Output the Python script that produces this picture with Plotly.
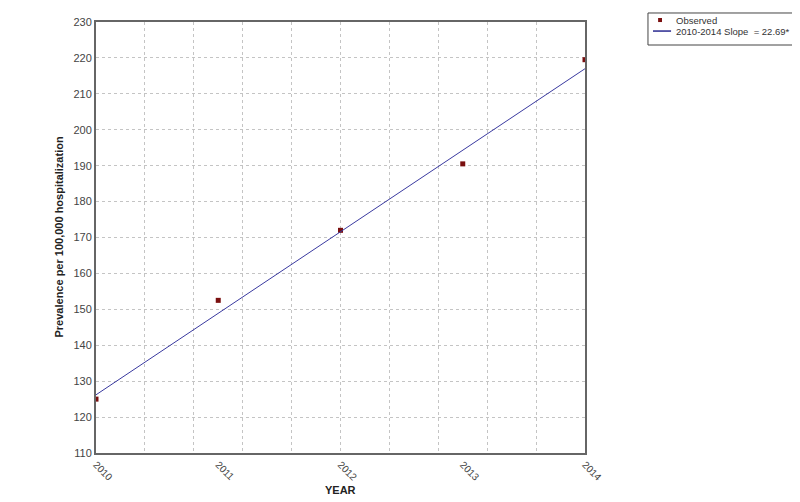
import plotly.graph_objects as go

years = [2010, 2011, 2012, 2013, 2014]
observed = [125.0, 152.5, 172.0, 190.5, 219.5]

trend_years = [2010, 2014]
trend_values = [126.2, 217.0]

y_ticks = list(range(110, 231, 10))

obs_label = 'Observed'
trend_label = '2010-2014 Slope  = 22.69*'
marker_color = '#7a0f0f'
line_color = '#3a3aa0'

fig = go.Figure()

fig.add_trace(go.Scatter(
    x=years, y=observed, mode='markers', name=obs_label,
    marker=dict(symbol='square', size=5, color=marker_color),
))
fig.add_trace(go.Scatter(
    x=trend_years, y=trend_values, mode='lines', name=trend_label,
    line=dict(color=line_color, width=1),
))

font_family = 'Liberation Sans, Arial, sans-serif'

# page body has an 8px margin, so the figure is 8px smaller than the window
fig.update_layout(
    width=792, height=494,
    margin=dict(l=88, r=215, t=14, b=49),
    paper_bgcolor='white', plot_bgcolor='white',
    font=dict(family=font_family, color='#333333'),
    showlegend=False,
)

fig.update_xaxes(
    range=[2010, 2014], automargin=False,
    tickmode='array', tickvals=years, ticktext=[str(y) for y in years],
    tickangle=45, tickfont=dict(size=10, color='#444444'),
    showgrid=False, zeroline=False,
    showline=True, linecolor='#666666', linewidth=2, mirror=True,
)
# minor grid every 0.4 year like the original
fig.update_xaxes(minor=dict(tick0=2010, dtick=0.4, showgrid=True,
                            gridcolor='#c4c4c4', griddash='dot', gridwidth=1))

fig.update_yaxes(
    range=[110, 230], tickvals=y_ticks, automargin=False,
    tickfont=dict(size=11, color='#444444'),
    showgrid=True, gridcolor='#c4c4c4', griddash='dot', gridwidth=1,
    zeroline=False,
    showline=True, linecolor='#666666', linewidth=2, mirror=True,
)

# axis titles
fig.add_annotation(text='<b>YEAR</b>', xref='paper', yref='paper', x=0.5, y=-0.086,
                   yanchor='middle', showarrow=False, font=dict(size=11, color='#222222'))
fig.add_annotation(text='<b>Prevalence per 100,000 hospitalization</b>',
                   xref='paper', yref='paper', x=-0.0777, y=0.5, textangle=-90,
                   xanchor='center', yanchor='middle',
                   showarrow=False, font=dict(size=11, color='#222222'))

# legend box drawn by hand so it stays compact like the original
fig.add_shape(type='rect', xref='paper', yref='paper', layer='above',
              x0=1.1288, x1=1.4274, y0=0.9466, y1=1.0209,
              line=dict(color='#444444', width=1), fillcolor='rgba(0,0,0,0)')
fig.add_shape(type='rect', xref='paper', yref='paper',
              x0=1.1495, x1=1.1575, y0=0.9999, y1=1.0093,
              line=dict(width=0), fillcolor=marker_color)
fig.add_shape(type='line', xref='paper', yref='paper',
              x0=1.139, x1=1.176, y0=0.979, y1=0.979,
              line=dict(color='#2a2a90', width=1.5))
fig.add_annotation(text=obs_label, xref='paper', yref='paper', x=1.182, y=1.0046,
                   xanchor='left', yanchor='middle', showarrow=False,
                   font=dict(size=9.5, color='#333333'))
fig.add_annotation(text=trend_label, xref='paper', yref='paper', x=1.182, y=0.979,
                   xanchor='left', yanchor='middle', showarrow=False,
                   font=dict(size=9.5, color='#333333'))

fig.write_html('out.html')
